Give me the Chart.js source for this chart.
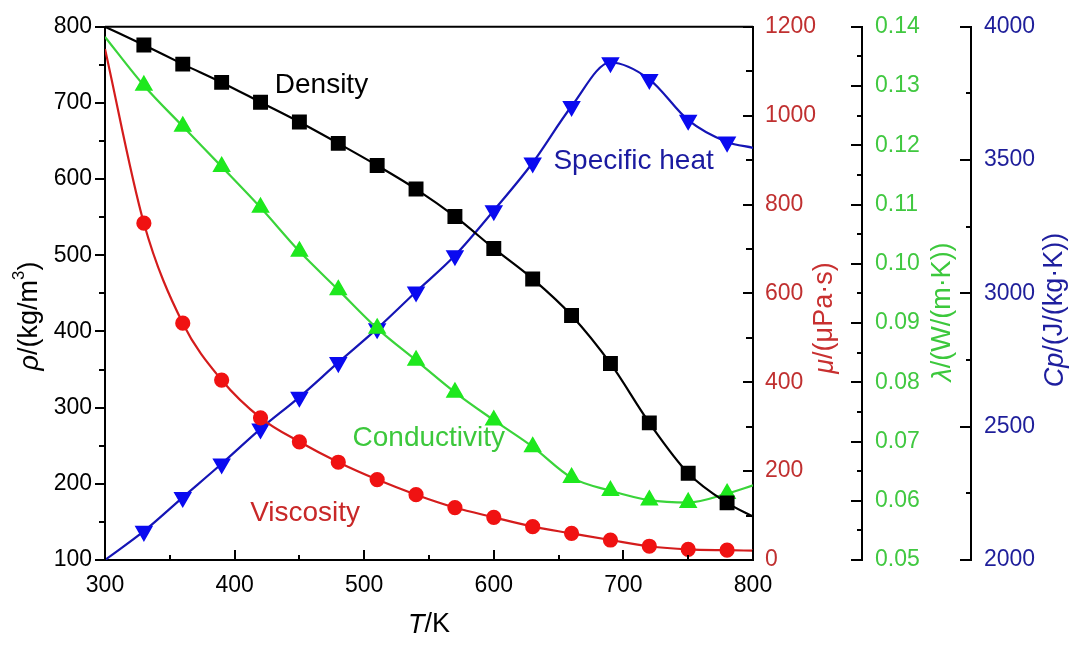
<!DOCTYPE html>
<html>
<head>
<meta charset="utf-8">
<script src="https://cdn.jsdelivr.net/npm/chart.js@4.4.0/dist/chart.umd.min.js"></script>
<style>
  html, body { margin: 0; padding: 0; background: #fff; }
</style>
</head>
<body>
<canvas id="chart" width="1076" height="646"></canvas>
<script>
// temperatures (K); first and last points carry no marker
const temps = [300, 330, 360, 390, 420, 450, 480, 510, 540, 570, 600, 630, 660, 690, 720, 750, 780, 800];
// density, kg/m3
const density = [800, 776, 751, 727, 701, 675, 647, 618, 587, 551, 509, 469, 421, 358, 280, 214, 175, 157];
// viscosity, uPa*s
const viscosity = [1150, 758, 533, 405, 320, 266, 220, 181, 147, 118, 96, 75, 60, 45, 31, 24, 22, 21];
// thermal conductivity, W/(m*K)
const conductivity = [0.1383, 0.1301, 0.1232, 0.1164, 0.1095, 0.1021, 0.0956, 0.0891, 0.0837, 0.0783, 0.0736, 0.0691, 0.0639, 0.0617, 0.0601, 0.0597, 0.0612, 0.0626];
// specific heat, J/(kg*K)
const specificHeat = [2000, 2108, 2235, 2361, 2492, 2611, 2741, 2868, 3006, 3142, 3311, 3490, 3702, 3866, 3803, 3650, 3568, 3546];

const FONT = "Arial, 'Liberation Sans', sans-serif";

const pts = arr => temps.map((t, i) => ({ x: t, y: arr[i] }));
const innerOnly = r => ctx => (ctx.dataIndex === 0 || ctx.dataIndex === temps.length - 1) ? 0 : r;

// tick mark lengths [major, minor] for each axis
const tickLook = {
  x: [10, 5],
  yRho: [10, 6],
  yMu: [10, 7],
  yLam: [11, 5],
  yCp: [11, 5]
};

function drawTitle(ctx, cx, cy, parts, color, size, rotate) {
  ctx.save();
  ctx.translate(cx, cy);
  if (rotate) ctx.rotate(-Math.PI / 2);
  ctx.fillStyle = color;
  ctx.textBaseline = 'middle';
  ctx.textAlign = 'left';
  const fontOf = p => (p.italic ? 'italic ' : '') + (p.sup ? size * 0.62 : size) + 'px ' + FONT;
  let total = 0;
  parts.forEach(p => { ctx.font = fontOf(p); total += ctx.measureText(p.t).width; });
  let x = -total / 2;
  parts.forEach(p => {
    ctx.font = fontOf(p);
    ctx.fillText(p.t, x, p.sup ? -size * 0.38 : 0);
    x += ctx.measureText(p.t).width;
  });
  ctx.restore();
}

const axisDecor = {
  id: 'axisDecor',
  afterDraw(chart) {
    const ctx = chart.ctx;
    const area = chart.chartArea;
    ctx.save();
    ctx.strokeStyle = '#000';
    ctx.lineWidth = 2;
    ctx.beginPath();
    ctx.moveTo(area.left, area.top);
    ctx.lineTo(area.right, area.top);
    ctx.stroke();

    Object.values(chart.scales).forEach(scale => {
      const look = tickLook[scale.id];
      const vals = scale.ticks.map(t => t.value);
      const minors = [];
      for (let i = 0; i < vals.length - 1; i++) minors.push((vals[i] + vals[i + 1]) / 2);
      const mark = (v, len) => {
        const p = Math.round(scale.getPixelForValue(v));
        ctx.beginPath();
        if (scale.isHorizontal()) {
          ctx.moveTo(p, scale.top); ctx.lineTo(p, scale.top - len);
        } else if (scale.position === 'left') {
          ctx.moveTo(scale.right, p); ctx.lineTo(scale.right - len, p);
        } else {
          ctx.moveTo(scale.left, p); ctx.lineTo(scale.left - len, p);
        }
        ctx.stroke();
      };
      vals.forEach(v => mark(v, look[0]));
      minors.forEach(v => mark(v, look[1]));
    });
    ctx.restore();

    // axis titles
    const s = chart.scales;
    drawTitle(ctx, (s.x.left + s.x.right) / 2, 625, [{ t: 'T', italic: true }, { t: '/K' }], '#000', 27, false);
    drawTitle(ctx, 30, 316, [{ t: 'ρ', italic: true }, { t: '/(kg/m' }, { t: '3', sup: true }, { t: ')' }], '#000', 27, true);
    drawTitle(ctx, 825, 318, [{ t: 'μ', italic: true }, { t: '/(μPa·s)' }], '#c83030', 27, true);
    drawTitle(ctx, 943, 312, [{ t: 'λ', italic: true }, { t: '/(W/(m·K))' }], '#3cc83c', 27, true);
    drawTitle(ctx, 1055, 310, [{ t: 'Cp', italic: true }, { t: '/(J/(kg·K))' }], '#1e1e9e', 27, true);

    // curve labels
    ctx.save();
    ctx.font = '28px ' + FONT;
    ctx.textBaseline = 'middle';
    ctx.textAlign = 'left';
    const put = (txt, t, rho, color) => {
      ctx.fillStyle = color;
      ctx.fillText(txt, s.x.getPixelForValue(t), s.yRho.getPixelForValue(rho));
    };
    put('Density', 431, 723, '#000');
    put('Specific heat', 646, 624, '#1a1aa0');
    put('Conductivity', 491, 260, '#3cc83c');
    put('Viscosity', 412, 161, '#c82828');
    ctx.restore();
  }
};

const tickFont = { family: FONT, size: 23 };
const noGrid = { display: false, drawTicks: false };
const border = { display: true, color: '#000', width: 2 };
const plain = v => String(v);

new Chart(document.getElementById('chart'), {
  type: 'line',
  data: {
    datasets: [
      {
        label: 'Density', data: pts(density), yAxisID: 'yRho',
        borderColor: '#000', backgroundColor: '#000', borderWidth: 2.2,
        pointStyle: 'rect', pointRadius: innerOnly(9), pointHoverRadius: 0,
        cubicInterpolationMode: 'monotone'
      },
      {
        label: 'Viscosity', data: pts(viscosity), yAxisID: 'yMu',
        borderColor: '#d41c1c', backgroundColor: '#f01212', pointBorderColor: '#f01212', borderWidth: 2.2,
        pointStyle: 'circle', pointRadius: innerOnly(6.5), pointHoverRadius: 0,
        cubicInterpolationMode: 'monotone'
      },
      {
        label: 'Conductivity', data: pts(conductivity), yAxisID: 'yLam',
        borderColor: '#3ad43a', backgroundColor: '#1ee81e', pointBorderColor: '#1ee81e', borderWidth: 2.2,
        pointStyle: 'triangle', pointRadius: innerOnly(8.5), pointHoverRadius: 0,
        cubicInterpolationMode: 'monotone'
      },
      {
        label: 'Specific heat', data: pts(specificHeat), yAxisID: 'yCp',
        borderColor: '#1515b5', backgroundColor: '#0a0af0', pointBorderColor: '#0a0af0', borderWidth: 2.2,
        pointStyle: 'triangle', pointRotation: 180, pointRadius: innerOnly(8.5), pointHoverRadius: 0,
        cubicInterpolationMode: 'monotone'
      }
    ]
  },
  options: {
    responsive: false,
    animation: false,
    devicePixelRatio: 1,
    layout: { padding: { top: 23, left: 0, right: 0, bottom: 0 } },
    plugins: { legend: { display: false }, tooltip: { enabled: false } },
    scales: {
      x: {
        type: 'linear', position: 'bottom', min: 300, max: 800,
        grid: noGrid, border: border,
        ticks: { stepSize: 100, font: tickFont, color: '#000', padding: 12, maxRotation: 0, callback: plain },
        afterFit: s => { s.height = 86; }
      },
      yRho: {
        type: 'linear', position: 'left', min: 100, max: 800,
        grid: noGrid, border: border,
        ticks: { stepSize: 100, font: tickFont, color: '#000', padding: 13, callback: plain },
        afterFit: s => { s.width = 105; }
      },
      yMu: {
        type: 'linear', position: 'right', min: 0, max: 1200,
        grid: noGrid, border: border,
        ticks: { stepSize: 200, font: tickFont, color: '#c03030', padding: 12, callback: plain },
        afterFit: s => { s.width = 109; }
      },
      yLam: {
        type: 'linear', position: 'right', min: 0.05, max: 0.14,
        grid: noGrid, border: border,
        ticks: { stepSize: 0.01, font: tickFont, color: '#40c840', padding: 13, autoSkip: false,
                 callback: v => v.toFixed(2) },
        afterFit: s => { s.width = 109; }
      },
      yCp: {
        type: 'linear', position: 'right', min: 2000, max: 4000,
        grid: noGrid, border: border,
        ticks: { stepSize: 500, font: tickFont, color: '#1e1e9a', padding: 13, callback: plain },
        afterFit: s => { s.width = 105; }
      }
    }
  },
  plugins: [axisDecor]
});
</script>
</body>
</html>
